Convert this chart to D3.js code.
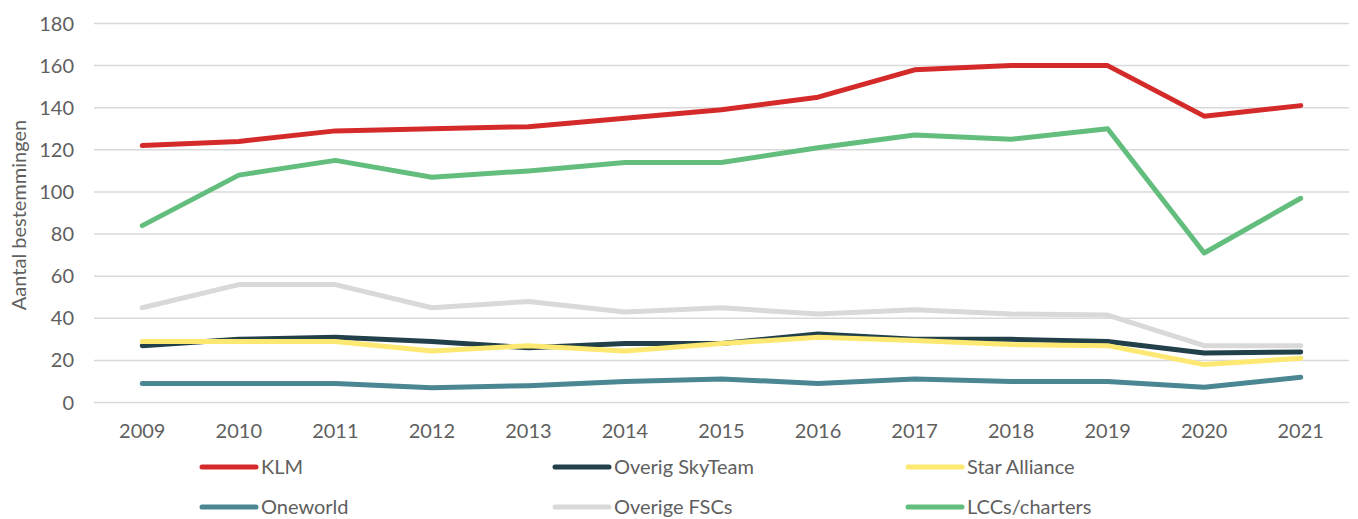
<!DOCTYPE html>
<html>
<head>
<meta charset="utf-8">
<script src="https://cdn.jsdelivr.net/npm/d3@7"></script>
<style>
  body { margin: 0; background: #fff; }
  svg { display: block; }
</style>
</head>
<body>
<svg width="1358" height="519"></svg>
<script>
var width = 1358;
var height = 519;

var years = ['2009', '2010', '2011', '2012', '2013', '2014', '2015', '2016', '2017', '2018', '2019', '2020', '2021'];
var yTicks = [0, 20, 40, 60, 80, 100, 120, 140, 160, 180];

var seriesNames = ['KLM', 'Overig SkyTeam', 'Star Alliance', 'Oneworld', 'Overige FSCs', 'LCCs/charters'];
var seriesColors = ['#D42B2A', '#22404A', '#FDE972', '#4A8793', '#D9D9D9', '#63BE7E'];

var klm = [122, 124, 129, 130, 131, 135, 139, 145, 158, 160, 160, 136, 141];
var skyTeam = [27, 30, 31, 29, 26, 28, 28, 32.5, 30, 30, 29, 23.5, 24];
var starAlliance = [29, 29, 29, 24.5, 27, 24.5, 28, 31, 29.5, 27.5, 27, 18, 21];
var oneworld = [9, 9, 9, 7, 8, 10, 11.2, 9, 11.2, 10, 10, 7.2, 12];
var overigeFSCs = [45, 56, 56, 45, 48, 43, 45, 42, 44, 42, 41.5, 27, 27];
var lccs = [84, 108, 115, 107, 110, 114, 114, 121, 127, 125, 130, 71, 97];

var seriesValues = [klm, skyTeam, starAlliance, oneworld, overigeFSCs, lccs];

var svg = d3.select('svg');
var textColor = '#5f5f5f';
var font = 'Lato, "Noto Sans", sans-serif';

var xScale = d3.scaleBand()
  .domain(years)
  .range([94, 1349]);

var yScale = d3.scaleLinear()
  .domain([0, 180])
  .range([402.5, 23.5]);

function xPos(year) { return xScale(year) + xScale.bandwidth() / 2; }

// gridlines
svg.append('g').selectAll('line').data(yTicks).enter()
  .append('line')
  .attr('x1', 94)
  .attr('x2', 1349)
  .attr('y1', function(d) { return yScale(d); })
  .attr('y2', function(d) { return yScale(d); })
  .attr('stroke', '#d9d9d9')
  .attr('stroke-width', 1.5);

// y tick labels
svg.append('g').selectAll('text').data(yTicks).enter()
  .append('text')
  .attr('x', 74)
  .attr('y', function(d) { return yScale(d); })
  .attr('dy', '0.35em')
  .attr('text-anchor', 'end')
  .attr('font-family', font)
  .attr('font-size', '20px')
  .attr('fill', textColor)
  .text(function(d) { return d; });

// x tick labels
svg.append('g').selectAll('text').data(years).enter()
  .append('text')
  .attr('x', function(d) { return xPos(d); })
  .attr('y', 431)
  .attr('dy', '0.35em')
  .attr('text-anchor', 'middle')
  .attr('font-family', font)
  .attr('font-size', '20px')
  .attr('fill', textColor)
  .text(function(d) { return d; });

// y axis title
svg.append('text')
  .attr('transform', 'translate(19,215) rotate(-90)')
  .attr('dy', '0.35em')
  .attr('text-anchor', 'middle')
  .attr('font-family', font)
  .attr('font-size', '20px')
  .attr('fill', textColor)
  .text('Aantal bestemmingen');

var line = d3.line()
  .x(function(d, i) { return xPos(years[i]); })
  .y(function(d) { return yScale(d); });

svg.append('g').selectAll('path').data(seriesValues).enter()
  .append('path')
  .attr('d', line)
  .attr('fill', 'none')
  .attr('stroke', function(d, i) { return seriesColors[i]; })
  .attr('stroke-width', 5)
  .attr('stroke-linecap', 'round')
  .attr('stroke-linejoin', 'round');

// legend
var legendCols = [202, 555, 908];
var legendRows = [467, 507];
var legend = svg.append('g').selectAll('g').data(seriesNames).enter()
  .append('g')
  .attr('transform', function(d, i) {
    return 'translate(' + legendCols[i % 3] + ',' + legendRows[Math.floor(i / 3)] + ')';
  });

legend.append('line')
  .attr('x1', 0)
  .attr('x2', 54)
  .attr('stroke', function(d, i) { return seriesColors[i]; })
  .attr('stroke-width', 5)
  .attr('stroke-linecap', 'round');

legend.append('text')
  .attr('x', 59)
  .attr('dy', '0.35em')
  .attr('font-family', font)
  .attr('font-size', '20px')
  .attr('fill', textColor)
  .text(function(d) { return d; });
</script>
</body>
</html>
